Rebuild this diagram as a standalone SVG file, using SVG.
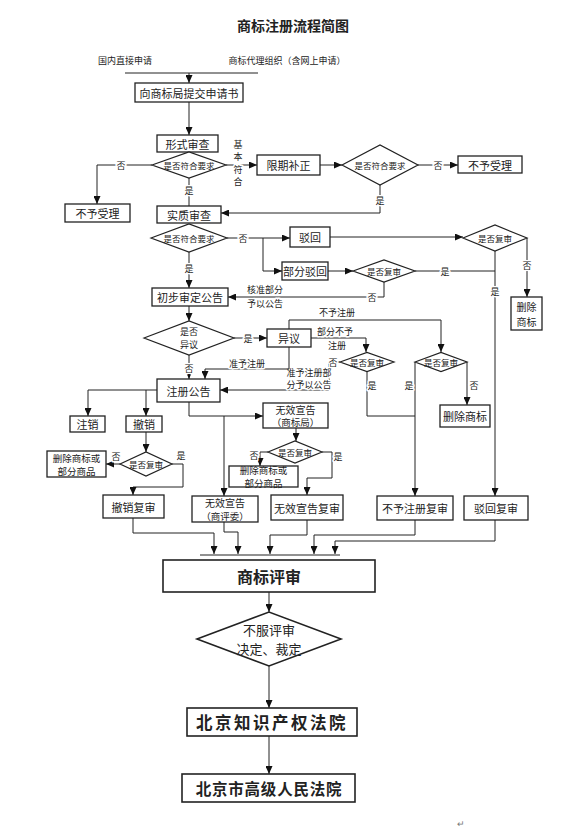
<svg xmlns="http://www.w3.org/2000/svg" width="569" height="829" viewBox="0 0 569 829">
<style>
.bg{fill:#fff}
.box{fill:#fff;stroke:#222;stroke-width:1.3}
.dia{fill:#fff;stroke:#222;stroke-width:1.2}
.ln{fill:none;stroke:#222;stroke-width:1}
.arr{marker-end:url(#ah)}
text{font-family:"Noto Sans CJK SC","Noto Sans CJK JP",sans-serif;fill:#222;text-anchor:middle;dominant-baseline:central}
.t11{font-size:11px}
.t10{font-size:10px}
.t9{font-size:9px}
.d9{font-size:8.5px}
.two{font-size:9.5px}
.lbl{font-size:9px;stroke:#fff;stroke-width:3;paint-order:stroke;stroke-linejoin:round}
</style>
<defs>
<marker id="ah" markerUnits="userSpaceOnUse" markerWidth="8" markerHeight="7" refX="8" refY="3.5" orient="auto">
<path d="M0,0 L8,3.5 L0,7 z" fill="#111"/>
</marker>
</defs>
<rect class="bg" x="0" y="0" width="569" height="829"/>
<text x="293" y="25" style="font-size:14px;font-weight:bold">商标注册流程简图</text>
<text x="125" y="60" class="t9">国内直接申请</text>
<text x="287" y="60" class="t9">商标代理组织（含网上申请）</text>

<g id="connectors">
<path class="ln" d="M125,73 H258"/>
<path class="ln arr" d="M189,73 V83"/>
<path class="ln arr" d="M189,102 V135"/>
<path class="ln arr" d="M152,165 H97 V204"/>
<text x="121" y="165" class="lbl">否</text>
<path class="ln arr" d="M226,165 H257"/>
<text x="238" y="144" class="lbl">基</text>
<text x="238" y="156.5" class="lbl">本</text>
<text x="238" y="169" class="lbl">符</text>
<text x="238" y="181.5" class="lbl">合</text>
<path class="ln arr" d="M320,165 H342"/>
<path class="ln arr" d="M418,165 H458"/>
<text x="438" y="165" class="lbl">否</text>
<path class="ln arr" d="M380,185 V213 H221"/>
<text x="380" y="200" class="lbl">是</text>
<path class="ln" d="M189,178 V206"/>
<text x="189" y="190" class="lbl">是</text>
<path class="ln arr" d="M227,238 H290"/>
<path class="ln arr" d="M263,238 V271 H282"/>
<text x="243" y="238" class="lbl">否</text>
<path class="ln arr" d="M330,237 H463"/>
<path class="ln arr" d="M527,238 V297"/>
<text x="527" y="265" class="lbl">否</text>
<path class="ln arr" d="M495,251 V496"/>
<text x="495" y="291" class="lbl">是</text>
<path class="ln arr" d="M328,271 H353"/>
<path class="ln" d="M415,271 H495"/>
<text x="445" y="271" class="lbl">是</text>
<path class="ln arr" d="M384,282 V297 H228"/>
<text x="372" y="297" class="lbl">否</text>
<text x="265" y="289" class="lbl">核准部分</text>
<text x="265" y="303" class="lbl">予以公告</text>
<path class="ln arr" d="M189,252 V288"/>
<text x="189" y="268" class="lbl">是</text>
<path class="ln arr" d="M189,306 V321"/>
<path class="ln arr" d="M234,338 H267"/>
<text x="248" y="338" class="lbl">是</text>
<path class="ln arr" d="M289,329 V320 H441 V352"/>
<text x="337" y="312" class="lbl">不予注册</text>
<path class="ln arr" d="M311,338 H366 V352"/>
<text x="335" y="331" class="lbl">部分不予</text>
<text x="337" y="345" class="lbl">注册</text>
<path class="ln arr" d="M415,362 V496"/>
<text x="409" y="385" class="lbl">是</text>
<path class="ln arr" d="M467,362 V405"/>
<text x="474" y="385" class="lbl">否</text>
<path class="ln" d="M367,371 V416 H415"/>
<text x="372" y="385" class="lbl">是</text>
<path class="ln arr" d="M340,362 H329 V390 H220"/>
<text x="333" y="362" class="lbl">否</text>
<text x="309" y="372" class="lbl">准予注册部</text>
<text x="309" y="384" class="lbl">分予以公告</text>
<path class="ln arr" d="M289,347 V369 H205 V379"/>
<text x="247" y="363" class="lbl">准予注册</text>
<path class="ln arr" d="M189,355 V379"/>
<text x="189" y="368" class="lbl">否</text>
<path class="ln arr" d="M157,390 H88 V416"/>
<path class="ln arr" d="M146,390 V416"/>
<path class="ln arr" d="M146,432 V452"/>
<path class="ln arr" d="M120,464 H106"/>
<text x="116" y="456" class="lbl">否</text>
<path class="ln arr" d="M172,464 H183 V487 H133 V495"/>
<text x="181" y="455" class="lbl">是</text>
<path class="ln arr" d="M189,402 V416 H263"/>
<path class="ln arr" d="M224,416 V496"/>
<path class="ln arr" d="M296,428 V441"/>
<path class="ln arr" d="M268,452 H260 V466"/>
<text x="254" y="455" class="lbl">否</text>
<path class="ln arr" d="M322,452 H332 V478 H307 V495"/>
<text x="338" y="456" class="lbl">是</text>
<path class="ln arr" d="M133,518 V533 H214 V554"/>
<path class="ln arr" d="M224,522 V532 H238 V554"/>
<path class="ln arr" d="M307,520 V535 H270 V554"/>
<path class="ln arr" d="M415,520 V535 H314 V554"/>
<path class="ln arr" d="M495,520 V541 H335 V554"/>
<path class="ln" d="M200,555 H340"/>
<path class="ln arr" d="M269,592 V612"/>
<path class="ln arr" d="M269,666 V708"/>
<path class="ln arr" d="M269,736 V774"/>
</g>

<g id="n_submit"><rect class="box" x="135" y="83" width="108" height="19"/><text x="189" y="92.5" class="t11">向商标局提交申请书</text></g>
<g id="n_formal"><rect class="box" x="157" y="135" width="61" height="17"/><text x="187.5" y="143.5" class="t11">形式审查</text></g>
<g id="d_formal"><polygon class="dia" points="152,165 189,152 226,165 189,178"/><text x="189" y="165" class="d9">是否符合要求</text></g>
<g id="n_reject1"><rect class="box" x="65" y="204" width="65" height="18"/><text x="97.5" y="213" class="t11">不予受理</text></g>
<g id="n_fix"><rect class="box" x="257" y="155" width="63" height="20"/><text x="288.5" y="165" class="t11">限期补正</text></g>
<g id="d_fix"><polygon class="dia" points="342,165 380,145 418,165 380,185"/><text x="380" y="165" class="d9">是否符合要求</text></g>
<g id="n_reject2"><rect class="box" x="458" y="156" width="64" height="17"/><text x="490" y="164.5" class="t11">不予受理</text></g>
<g id="n_subst"><rect class="box" x="157" y="206" width="64" height="17"/><text x="189" y="214.5" class="t11">实质审查</text></g>
<g id="d_subst"><polygon class="dia" points="151,238 189,224 227,238 189,252"/><text x="189" y="238" class="d9">是否符合要求</text></g>
<g id="n_refuse"><rect class="box" x="290" y="227" width="40" height="20"/><text x="310" y="237" class="t11">驳回</text></g>
<g id="d_refuse"><polygon class="dia" points="463,238 495,225 527,238 495,251"/><text x="495" y="238" class="d9">是否复审</text></g>
<g id="n_del1"><rect class="box" x="511" y="297" width="31" height="33"/><text x="526.5" y="306" class="t10">删除</text><text x="526.5" y="321" class="t10">商标</text></g>
<g id="n_partref"><rect class="box" x="282" y="262" width="46" height="18"/><text x="305" y="271" class="t11">部分驳回</text></g>
<g id="d_partref"><polygon class="dia" points="353,271 384,260 415,271 384,282"/><text x="384" y="271" class="d9">是否复审</text></g>
<g id="n_prelim"><rect class="box" x="152" y="288" width="76" height="18"/><text x="190" y="297" class="t11">初步审定公告</text></g>
<g id="d_oppose"><polygon class="dia" points="144,338 189,321 234,338 189,355"/><text x="189" y="331.5" class="t9">是否</text><text x="189" y="344.5" class="t9">异议</text></g>
<g id="n_oppose"><rect class="box" x="267" y="329" width="44" height="18"/><text x="289" y="338" class="t11">异议</text></g>
<g id="d_opp_mid"><polygon class="dia" points="340,362 367,352.5 394,362 367,371.5"/><text x="367" y="362" class="d9">是否复审</text></g>
<g id="d_opp_right"><polygon class="dia" points="415,362 441,352.5 467,362 441,371.5"/><text x="441" y="362" class="d9">是否复审</text></g>
<g id="n_del2"><rect class="box" x="440" y="405" width="50" height="22"/><text x="465" y="416" class="t11">删除商标</text></g>
<g id="n_regpub"><rect class="box" x="157" y="379" width="63" height="23"/><text x="188.5" y="390.5" class="t11">注册公告</text></g>
<g id="n_cancel"><rect class="box" x="70" y="416" width="35" height="16"/><text x="87.5" y="424" class="t11">注销</text></g>
<g id="n_revoke"><rect class="box" x="126" y="416" width="36" height="16"/><text x="144" y="424" class="t11">撤销</text></g>
<g id="d_revoke"><polygon class="dia" points="120,464 146,452 172,464 146,476"/><text x="146" y="464" class="d9">是否复审</text></g>
<g id="n_del3"><rect class="box" x="47" y="451" width="59" height="26"/><text x="76.5" y="457.5" class="two">删除商标或</text><text x="76.5" y="470.5" class="two">部分商品</text></g>
<g id="n_revoke_rev"><rect class="box" x="103" y="495" width="61" height="23"/><text x="133.5" y="506.5" class="t11">撤销复审</text></g>
<g id="n_invalid_tmo"><rect class="box" x="263" y="403" width="65" height="25"/><text x="295.5" y="409" class="t10">无效宣告</text><text x="295.5" y="422" class="two">（商标局）</text></g>
<g id="d_invalid"><polygon class="dia" points="268,452 295,441 322,452 295,463"/><text x="295" y="452" class="d9">是否复审</text></g>
<g id="n_del4"><rect class="box" x="229" y="466" width="69" height="21"/><text x="263.5" y="470" class="two">删除商标或</text><text x="263.5" y="482.5" class="two">部分商品</text></g>
<g id="n_invalid_trab"><rect class="box" x="192" y="496" width="66" height="26"/><text x="225" y="502.5" class="t10">无效宣告</text><text x="225" y="515.5" class="two">（商评委）</text></g>
<g id="n_invalid_rev"><rect class="box" x="271" y="495" width="72" height="25"/><text x="307" y="507.5" class="t11">无效宣告复审</text></g>
<g id="n_noreg_rev"><rect class="box" x="377" y="496" width="76" height="24"/><text x="415" y="508" class="t11">不予注册复审</text></g>
<g id="n_refuse_rev"><rect class="box" x="464" y="496" width="64" height="24"/><text x="496" y="508" class="t11">驳回复审</text></g>
<g id="n_review"><rect class="box" x="163" y="560" width="212" height="32" style="stroke-width:1.6"/><text x="269" y="576" style="font-size:16px;font-weight:bold">商标评审</text></g>
<g id="d_dissatisfied"><polygon class="dia" points="197,639 269,612 341,639 269,666" style="stroke-width:1.6"/><text x="269" y="629" style="font-size:13px">不服评审</text><text x="269" y="648" style="font-size:13px">决定、裁定</text></g>
<g id="n_ipcourt"><rect class="box" x="187" y="708" width="170" height="28" style="stroke-width:1.6"/><text x="272" y="722" style="font-size:16.5px;font-weight:bold;letter-spacing:2.5px">北京知识产权法院</text></g>
<g id="n_highcourt"><rect class="box" x="182" y="774" width="173" height="28" style="stroke-width:1.6"/><text x="269" y="788" style="font-size:15.5px;font-weight:bold;letter-spacing:0.8px">北京市高级人民法院</text></g>
<text x="461" y="823" style="font-size:9px;fill:#777">↵</text>
</svg>
